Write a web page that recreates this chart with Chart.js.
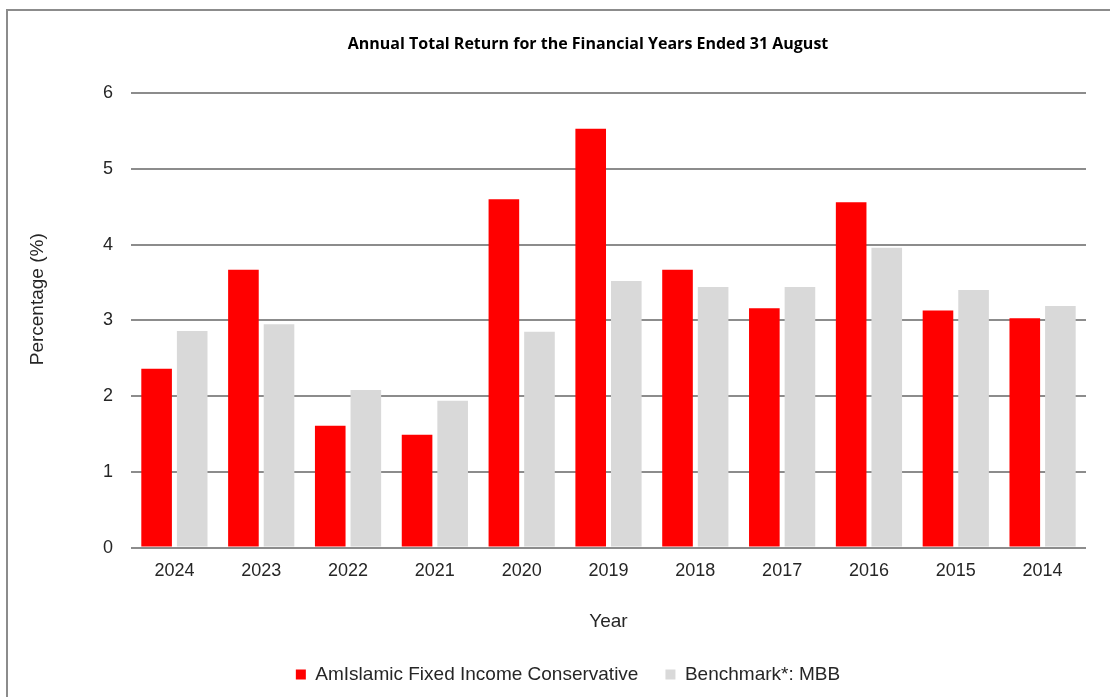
<!DOCTYPE html>
<html>
<head>
<meta charset="utf-8">
<script src="https://cdn.jsdelivr.net/npm/chart.js@4/dist/chart.umd.min.js"></script>
<style>
  html, body { margin: 0; padding: 0; background: #fff; overflow: hidden; }
  #frame {
    position: absolute; left: 6px; top: 9px; width: 1130px; height: 720px;
    border: 2px solid #8c8c8c; box-sizing: border-box;
  }
  #wrap { position: absolute; left: 0; top: 0; width: 1110px; height: 697px; }
</style>
</head>
<body>
<div id="frame"></div>
<div id="wrap"><canvas id="return-chart" width="1110" height="697"></canvas></div>
<script>
// DATA
const years = ['2024', '2023', '2022', '2021', '2020', '2019', '2018', '2017', '2016', '2015', '2014'];
const fundReturns = [2.36, 3.67, 1.61, 1.49, 4.60, 5.53, 3.67, 3.16, 4.56, 3.13, 3.03];
const benchmarkReturns = [2.86, 2.95, 2.08, 1.94, 2.85, 3.52, 3.44, 3.44, 3.96, 3.40, 3.19];
const yTicks = [0, 1, 2, 3, 4, 5, 6];

// title and legend sit a bit right of the canvas centre in the original
const shiftBlocks = {
    id: 'shiftBlocks',
    afterLayout(chart) {
        if (chart.titleBlock) {
            chart.titleBlock.left += 90;
        }
        if (chart.legend) {
            chart.legend.left += 50;
        }
    }
};

var returnChart;
function loadReturnChart() {
    var canvas = document.getElementById("return-chart");
    var context = canvas.getContext("2d");
    returnChart = new Chart(context, {
        type: 'bar',
        data: {
            labels: years,
            datasets: [{
                label: 'AmIslamic Fixed Income Conservative',
                data: fundReturns,
                backgroundColor: '#ff0000',
                categoryPercentage: 0.82,
                barPercentage: 0.86
            }, {
                label: 'Benchmark*: MBB',
                data: benchmarkReturns,
                backgroundColor: '#d9d9d9',
                categoryPercentage: 0.82,
                barPercentage: 0.86
            }]
        },
        plugins: [shiftBlocks],
        options: {
            responsive: false,
            animation: false,
            layout: {
                padding: { left: 0, right: 24, top: 0, bottom: 3 }
            },
            plugins: {
                title: {
                    display: true,
                    text: 'Annual Total Return for the Financial Years Ended 31 August',
                    color: '#000',
                    font: { family: 'Open Sans', size: 16, weight: 'bold' },
                    padding: { top: 35, bottom: 39 }
                },
                legend: {
                    position: 'bottom',
                    labels: {
                        color: '#262626',
                        boxWidth: 10,
                        boxHeight: 10,
                        padding: 27,
                        font: { family: 'Liberation Sans', size: 19 }
                    }
                },
                tooltip: { enabled: false }
            },
            scales: {
                y: {
                    min: 0,
                    max: 6,
                    afterBuildTicks: (scale) => {
                        scale.ticks = yTicks.map(v => ({ value: v }));
                    },
                    afterFit: (scale) => { scale.width = 131; },
                    grid: {
                        color: '#8c8c8c',
                        lineWidth: 2,
                        drawTicks: false
                    },
                    border: { display: false },
                    ticks: {
                        color: '#262626',
                        padding: 18,
                        font: { family: 'Liberation Sans', size: 18 }
                    },
                    title: {
                        display: true,
                        text: '\u00a0\u00a0\u00a0\u00a0\u00a0\u00a0\u00a0\u00a0Percentage (%)',
                        color: '#262626',
                        padding: { top: 26, bottom: 0 },
                        font: { family: 'Liberation Sans', size: 19 }
                    }
                },
                x: {
                    grid: { display: false, drawTicks: false },
                    border: { display: false },
                    ticks: {
                        color: '#262626',
                        padding: 13,
                        font: { family: 'Liberation Sans', size: 18 }
                    },
                    title: {
                        display: true,
                        text: 'Year',
                        color: '#262626',
                        padding: { top: 15, bottom: 5 },
                        font: { family: 'Liberation Sans', size: 19 }
                    }
                }
            }
        }
    });
}

loadReturnChart();
</script>
</body>
</html>
